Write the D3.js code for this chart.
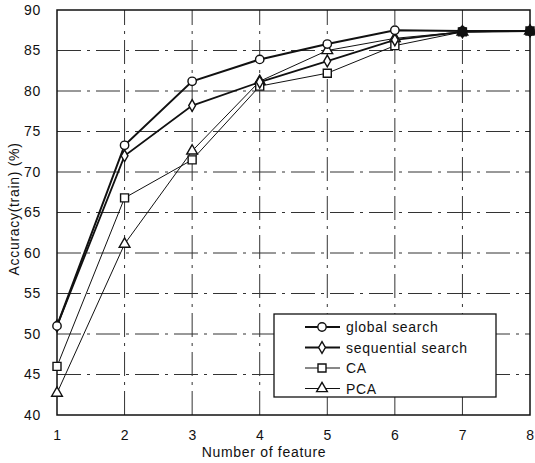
<!DOCTYPE html>
<html>
<head>
<meta charset="utf-8">
<script src="https://cdn.jsdelivr.net/npm/d3@7"></script>
<style>
  html, body { margin: 0; padding: 0; background: #fff; }
  svg text { font-family: "Liberation Sans", Arial, Helvetica, sans-serif; fill: #111; letter-spacing: 0.7px; }
</style>
</head>
<body>
<svg id="chart" width="535" height="463"></svg>
<script>
// Number of features used
const features = [1, 2, 3, 4, 5, 6, 7, 8];

// Training accuracy (%) per method
const globalSearch     = [51.0, 73.3, 81.2, 83.9, 85.8, 87.5, 87.4, 87.4];
const sequentialSearch = [51.0, 72.0, 78.2, 81.1, 83.7, 86.3, 87.3, 87.4];
const caValues         = [46.0, 66.8, 71.5, 80.6, 82.2, 85.6, 87.3, 87.4];
const pcaValues        = [42.7, 61.1, 72.6, 81.2, 85.0, 86.5, 87.3, 87.4];

const seriesNames = ["global search", "sequential search", "CA", "PCA"];
const yTicks = [40, 45, 50, 55, 60, 65, 70, 75, 80, 85, 90];

const series = [
  { name: seriesNames[0], values: globalSearch,     marker: "circle",   width: 2.0 },
  { name: seriesNames[1], values: sequentialSearch, marker: "diamond",  width: 1.8 },
  { name: seriesNames[2], values: caValues,         marker: "square",   width: 1.0 },
  { name: seriesNames[3], values: pcaValues,        marker: "triangle", width: 1.0 }
];

const svg = d3.select("#chart");
const margin = { left: 57, right: 5, top: 10, bottom: 48 };
const W = 535, H = 463;

const x = d3.scaleLinear().domain([1, 8]).range([margin.left, W - margin.right]);
const y = d3.scaleLinear().domain([40, 90]).range([H - margin.bottom, margin.top]);

const grid = svg.append("g");
// horizontal grid lines (dash-dot)
grid.selectAll("line.h").data(yTicks.slice(1, -1)).join("line")
  .attr("x1", x(1)).attr("x2", x(8))
  .attr("y1", d => y(d)).attr("y2", d => y(d))
  .attr("stroke", "#333").attr("stroke-width", 1)
  .attr("stroke-dasharray", "24,6,3,6");
// vertical grid lines
grid.selectAll("line.v").data(features.slice(1, -1)).join("line")
  .attr("x1", d => x(d)).attr("x2", d => x(d))
  .attr("y1", y(40)).attr("y2", y(90))
  .attr("stroke", "#333").attr("stroke-width", 1)
  .attr("stroke-dasharray", "24,6,3,6");

// frame
svg.append("rect")
  .attr("x", x(1)).attr("y", y(90))
  .attr("width", x(8) - x(1)).attr("height", y(40) - y(90))
  .attr("fill", "none").attr("stroke", "#111").attr("stroke-width", 1.5);

// axes
const yAxis = d3.axisLeft(y).tickValues(yTicks).tickSize(0).tickPadding(16);
const gy = svg.append("g").attr("transform", `translate(${x(1)},0)`).call(yAxis);
gy.select(".domain").remove();
gy.selectAll("text").style("font-size", "14px").attr("fill", "#111");

const xAxis = d3.axisBottom(x).tickValues(features).tickFormat(d3.format("d")).tickSize(0).tickPadding(15);
const gx = svg.append("g").attr("transform", `translate(0,${y(40)})`).call(xAxis);
gx.select(".domain").remove();
gx.selectAll("text").style("font-size", "14px").attr("fill", "#111");

svg.append("text")
  .attr("x", 264).attr("y", 457)
  .attr("text-anchor", "middle").style("font-size", "14px")
  .text("Number of feature");

svg.append("text")
  .attr("transform", "translate(19,209) rotate(-90)")
  .attr("text-anchor", "middle").style("font-size", "14px")
  .text("Accuracy(train) (%)");

// markers
const symbolFor = {
  circle:   d3.symbol().type(d3.symbolCircle).size(55),
  diamond:  d3.symbol().type(d3.symbolDiamond).size(40),
  square:   d3.symbol().type(d3.symbolSquare).size(64),
  triangle: d3.symbol().type(d3.symbolTriangle).size(50)
};

const line = d3.line().x((d, i) => x(features[i])).y(d => y(d));

// draw thin series first so thick ones sit on top
[...series].reverse().forEach(s => {
  svg.append("path")
    .datum(s.values)
    .attr("d", line)
    .attr("fill", "none")
    .attr("stroke", "#111")
    .attr("stroke-width", s.width);
});
[...series].reverse().forEach(s => {
  svg.append("g").selectAll("path").data(s.values).join("path")
    .attr("d", symbolFor[s.marker])
    .attr("transform", (d, i) => `translate(${x(features[i])},${y(d)})`)
    .attr("fill", (d, i) => features[i] >= 7 ? "#111" : "#fff")
    .attr("stroke", "#111").attr("stroke-width", 1.4);
});

// legend
const lg = svg.append("g");
lg.append("rect")
  .attr("x", 274).attr("y", 314).attr("width", 222).attr("height", 83)
  .attr("fill", "#fff").attr("stroke", "#111").attr("stroke-width", 1.3);
series.forEach((s, i) => {
  const cy = 327 + i * 20.5;
  lg.append("line")
    .attr("x1", 305).attr("x2", 340).attr("y1", cy).attr("y2", cy)
    .attr("stroke", "#111").attr("stroke-width", s.width);
  lg.append("path")
    .attr("d", symbolFor[s.marker])
    .attr("transform", `translate(322,${cy})`)
    .attr("fill", "#fff").attr("stroke", "#111").attr("stroke-width", 1.4);
  lg.append("text")
    .attr("x", 346).attr("y", cy + 5)
    .style("font-size", "14px")
    .text(s.name);
});
</script>
</body>
</html>
